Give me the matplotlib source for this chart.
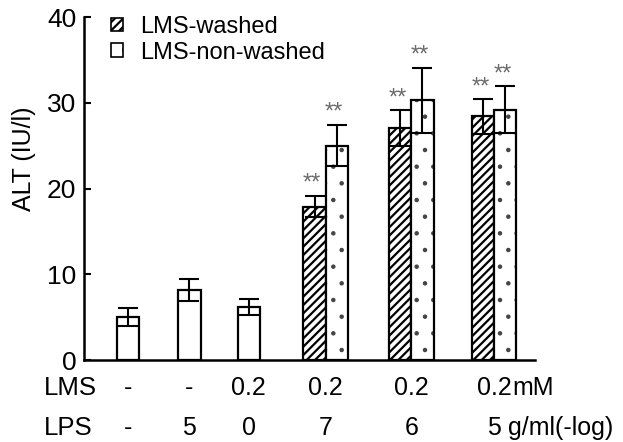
import numpy as np
import matplotlib
matplotlib.use('Agg')
import matplotlib.pyplot as plt
from matplotlib.patches import Patch

plt.rcParams['font.family'] = ['Liberation Sans', 'DejaVu Sans']
plt.rcParams['hatch.linewidth'] = 1.6

# conditions under each group
lms_labels = ['-', '-', '0.2', '0.2', '0.2', '0.2']
lps_labels = ['-', '5', '0', '7', '6', '5']

# ALT (IU/l)
control_alt = [5.0, 8.2, 6.2]
control_err = [1.05, 1.3, 0.9]
washed_alt = [17.9, 27.0, 28.4]
washed_err = [1.2, 2.1, 2.0]
nonwashed_alt = [25.0, 30.3, 29.2]
nonwashed_err = [2.4, 3.8, 2.7]

# group positions (spacing is uneven in the original)
group_x = np.array([0, 1.03, 2.02, 3.3, 4.73, 6.11])
bar_w = 0.37

fig = plt.figure(figsize=(6.23, 4.42), dpi=100)
ax = fig.add_axes([0.1356, 0.1855, 0.7231, 0.776])

err_kw = dict(ecolor='black', elinewidth=1.5, capsize=7, capthick=1.5)
ax.bar(group_x[:3], control_alt, bar_w, yerr=control_err, color='white',
       edgecolor='black', linewidth=1.6, error_kw=err_kw)
ax.bar(group_x[3:] - bar_w / 2, washed_alt, bar_w, yerr=washed_err, color='white',
       edgecolor='black', hatch='////', linewidth=1.6, error_kw=err_kw)
# dotted bars: grey dots first, then a black outline on top
dots = ax.bar(group_x[3:] + bar_w / 2, nonwashed_alt, bar_w, color='white',
              edgecolor='#444444', hatch='.', linewidth=0)
for p in dots:
    if hasattr(p, 'set_hatch_linewidth'):
        p.set_hatch_linewidth(0.8)
ax.bar(group_x[3:] + bar_w / 2, nonwashed_alt, bar_w, yerr=nonwashed_err, fill=False,
       edgecolor='black', linewidth=1.6, error_kw=err_kw)

# significance marks
for xs, vals, errs in [(group_x[3:] - bar_w / 2, washed_alt, washed_err),
                       (group_x[3:] + bar_w / 2, nonwashed_alt, nonwashed_err)]:
    for x, v, e in zip(xs, vals, errs):
        ax.annotate('**', (x, v + e), xytext=(-2, 4.5), textcoords='offset points',
                    ha='center', va='baseline', fontsize=17, color='#6a6a6a')

ax.set_xlim(-0.72, 6.79)
ax.set_ylim(0, 40)
ax.set_xticks([])
ax.set_yticks([0, 10, 20, 30, 40])
ax.tick_params(axis='y', direction='in', length=5, width=1.5, labelsize=19, pad=6)
for s in ['top', 'right']:
    ax.spines[s].set_visible(False)
for s in ['left', 'bottom']:
    ax.spines[s].set_linewidth(1.8)

fig.text(24 / 623, 1 - 159 / 442, 'ALT (IU/l)', rotation=90, ha='center', va='center', fontsize=18)

# legend
handles = [Patch(facecolor='white', edgecolor='black', hatch='////', linewidth=1.2, label='LMS-washed'),
           Patch(facecolor='white', edgecolor='black', hatch='.', linewidth=1.2, label='LMS-non-washed')]
ax.legend(handles=handles, loc='upper left', bbox_to_anchor=(110.7 / 623, 1 - 16 / 442),
          bbox_transform=fig.transFigure, frameon=False, fontsize=17, handlelength=0.5,
          handleheight=0.5, handletextpad=0.75, labelspacing=0.15, borderpad=0, borderaxespad=0)

# condition rows under the axis
trans = ax.get_xaxis_transform()
y_lms = -0.0816
y_lps = -0.198
fig.text(44 / 623, 1 - 388 / 442, 'LMS', ha='left', va='center', fontsize=18.5)
fig.text(44 / 623, 1 - 428 / 442, 'LPS', ha='left', va='center', fontsize=18.5)
for x, a, b in zip(group_x, lms_labels, lps_labels):
    ax.text(x, y_lms, a, transform=trans, ha='center', va='center', fontsize=18)
    ax.text(x, y_lps, b, transform=trans, ha='center', va='center', fontsize=18)
ax.annotate('mM', (group_x[-1], y_lms), xycoords=trans, xytext=(13, 0), textcoords='offset points',
            ha='left', va='center', fontsize=18)
ax.annotate('g/ml(-log)', (group_x[-1], y_lps), xycoords=trans, xytext=(10, 0), textcoords='offset points',
            ha='left', va='center', fontsize=18)

fig.savefig('out.png', dpi=100)
